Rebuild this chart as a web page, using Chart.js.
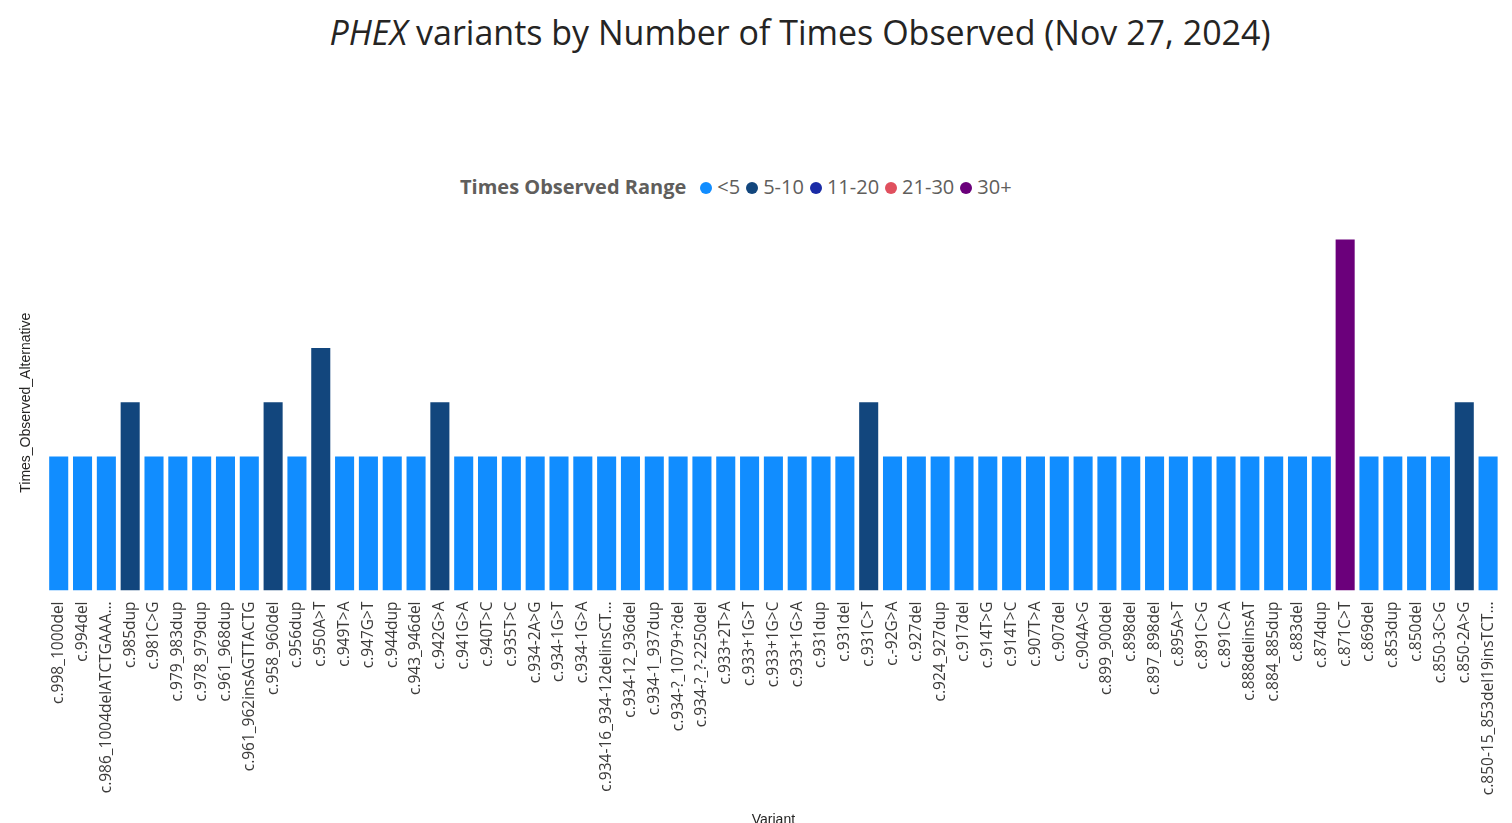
<!DOCTYPE html>
<html><head><meta charset="utf-8">
<script src="https://cdn.jsdelivr.net/npm/chart.js@4"></script>
<style>
body{margin:0;background:#fff;font-family:"Segoe UI","Open Sans",sans-serif;overflow:hidden;}
#title{position:absolute;top:9px;left:0;width:1600px;text-align:center;font-size:34px;color:#252423;}
#legend{position:absolute;top:173px;left:460px;font-size:20px;color:#605e5c;white-space:nowrap;}
#legend b{color:#605e5c;margin-right:8px}
#legend span.dot{display:inline-block;width:12px;height:12px;border-radius:50%;margin:0 5px 0 6px;}
#wrap{position:absolute;left:0;top:0;width:1512px;height:833px;}
</style></head><body>
<div id="title"><i>PHEX</i> variants by Number of Times Observed (Nov 27, 2024)</div>
<div id="legend"></div>
<div id="wrap"><canvas id="c"></canvas></div>
<script>
const variants = ['c.998_1000del','c.994del','c.986_1004delATCTGAAA…','c.985dup','c.981C>G','c.979_983dup','c.978_979dup','c.961_968dup','c.961_962insAGTTACTG','c.958_960del','c.956dup','c.950A>T','c.949T>A','c.947G>T','c.944dup','c.943_946del','c.942G>A','c.941G>A','c.940T>C','c.935T>C','c.934-2A>G','c.934-1G>T','c.934-1G>A','c.934-16_934-12delinsCT…','c.934-12_936del','c.934-1_937dup','c.934-?_1079+?del','c.934-?_?-2250del','c.933+2T>A','c.933+1G>T','c.933+1G>C','c.933+1G>A','c.931dup','c.931del','c.931C>T','c.-92G>A','c.927del','c.924_927dup','c.917del','c.914T>G','c.914T>C','c.907T>A','c.907del','c.904A>G','c.899_900del','c.898del','c.897_898del','c.895A>T','c.891C>G','c.891C>A','c.888delinsAT','c.884_885dup','c.883del','c.874dup','c.871C>T','c.869del','c.853dup','c.850del','c.850-3C>G','c.850-2A>G','c.850-15_853del19insTCT…'];
const timesObserved = [1,1,1,2,1,1,1,1,1,2,1,3,1,1,1,1,2,1,1,1,1,1,1,1,1,1,1,1,1,1,1,1,1,1,2,1,1,1,1,1,1,1,1,1,1,1,1,1,1,1,1,1,1,1,5,1,1,1,1,2,1];
const ranges = ['<5','5-10','11-20','21-30','30+'];
const rangeColors = ['#118DFF','#12467D','#1A2BA6','#E0505E','#6B007B'];
const rangeOf = [0,0,1,1,1,4]; // index by value

document.getElementById('legend').innerHTML = '<b>Times Observed Range</b>' +
  ranges.map((r,i)=>'<span class="dot" style="background:'+rangeColors[i]+'"></span>'+r).join('');

new Chart(document.getElementById('c'), {
  type:'bar',
  data:{labels:variants,datasets:[{data:timesObserved,base:-1.47,
    backgroundColor:timesObserved.map(v=>rangeColors[rangeOf[v]]),
    barPercentage:0.8,categoryPercentage:1}]},
  options:{responsive:true,maintainAspectRatio:false,animation:false,
    layout:{padding:{top:215,left:14,right:12,bottom:0}},
    plugins:{legend:{display:false},tooltip:{enabled:false}},
    scales:{
      x:{grid:{display:false},border:{display:false},
         ticks:{autoSkip:false,maxRotation:90,minRotation:90,padding:3,color:'#3b3a39',font:{size:15.5,family:'"Segoe UI","Open Sans",sans-serif'}},
         title:{display:true,text:'Variant',color:'#252423',font:{size:14},padding:{top:14}}},
      y:{min:-1.47,max:5.45,grid:{display:false},border:{display:false},
         ticks:{display:false},
         title:{display:true,text:'Times_Observed_Alternative',color:'#252423',font:{size:14}}}
    }}
});
</script></body></html>
